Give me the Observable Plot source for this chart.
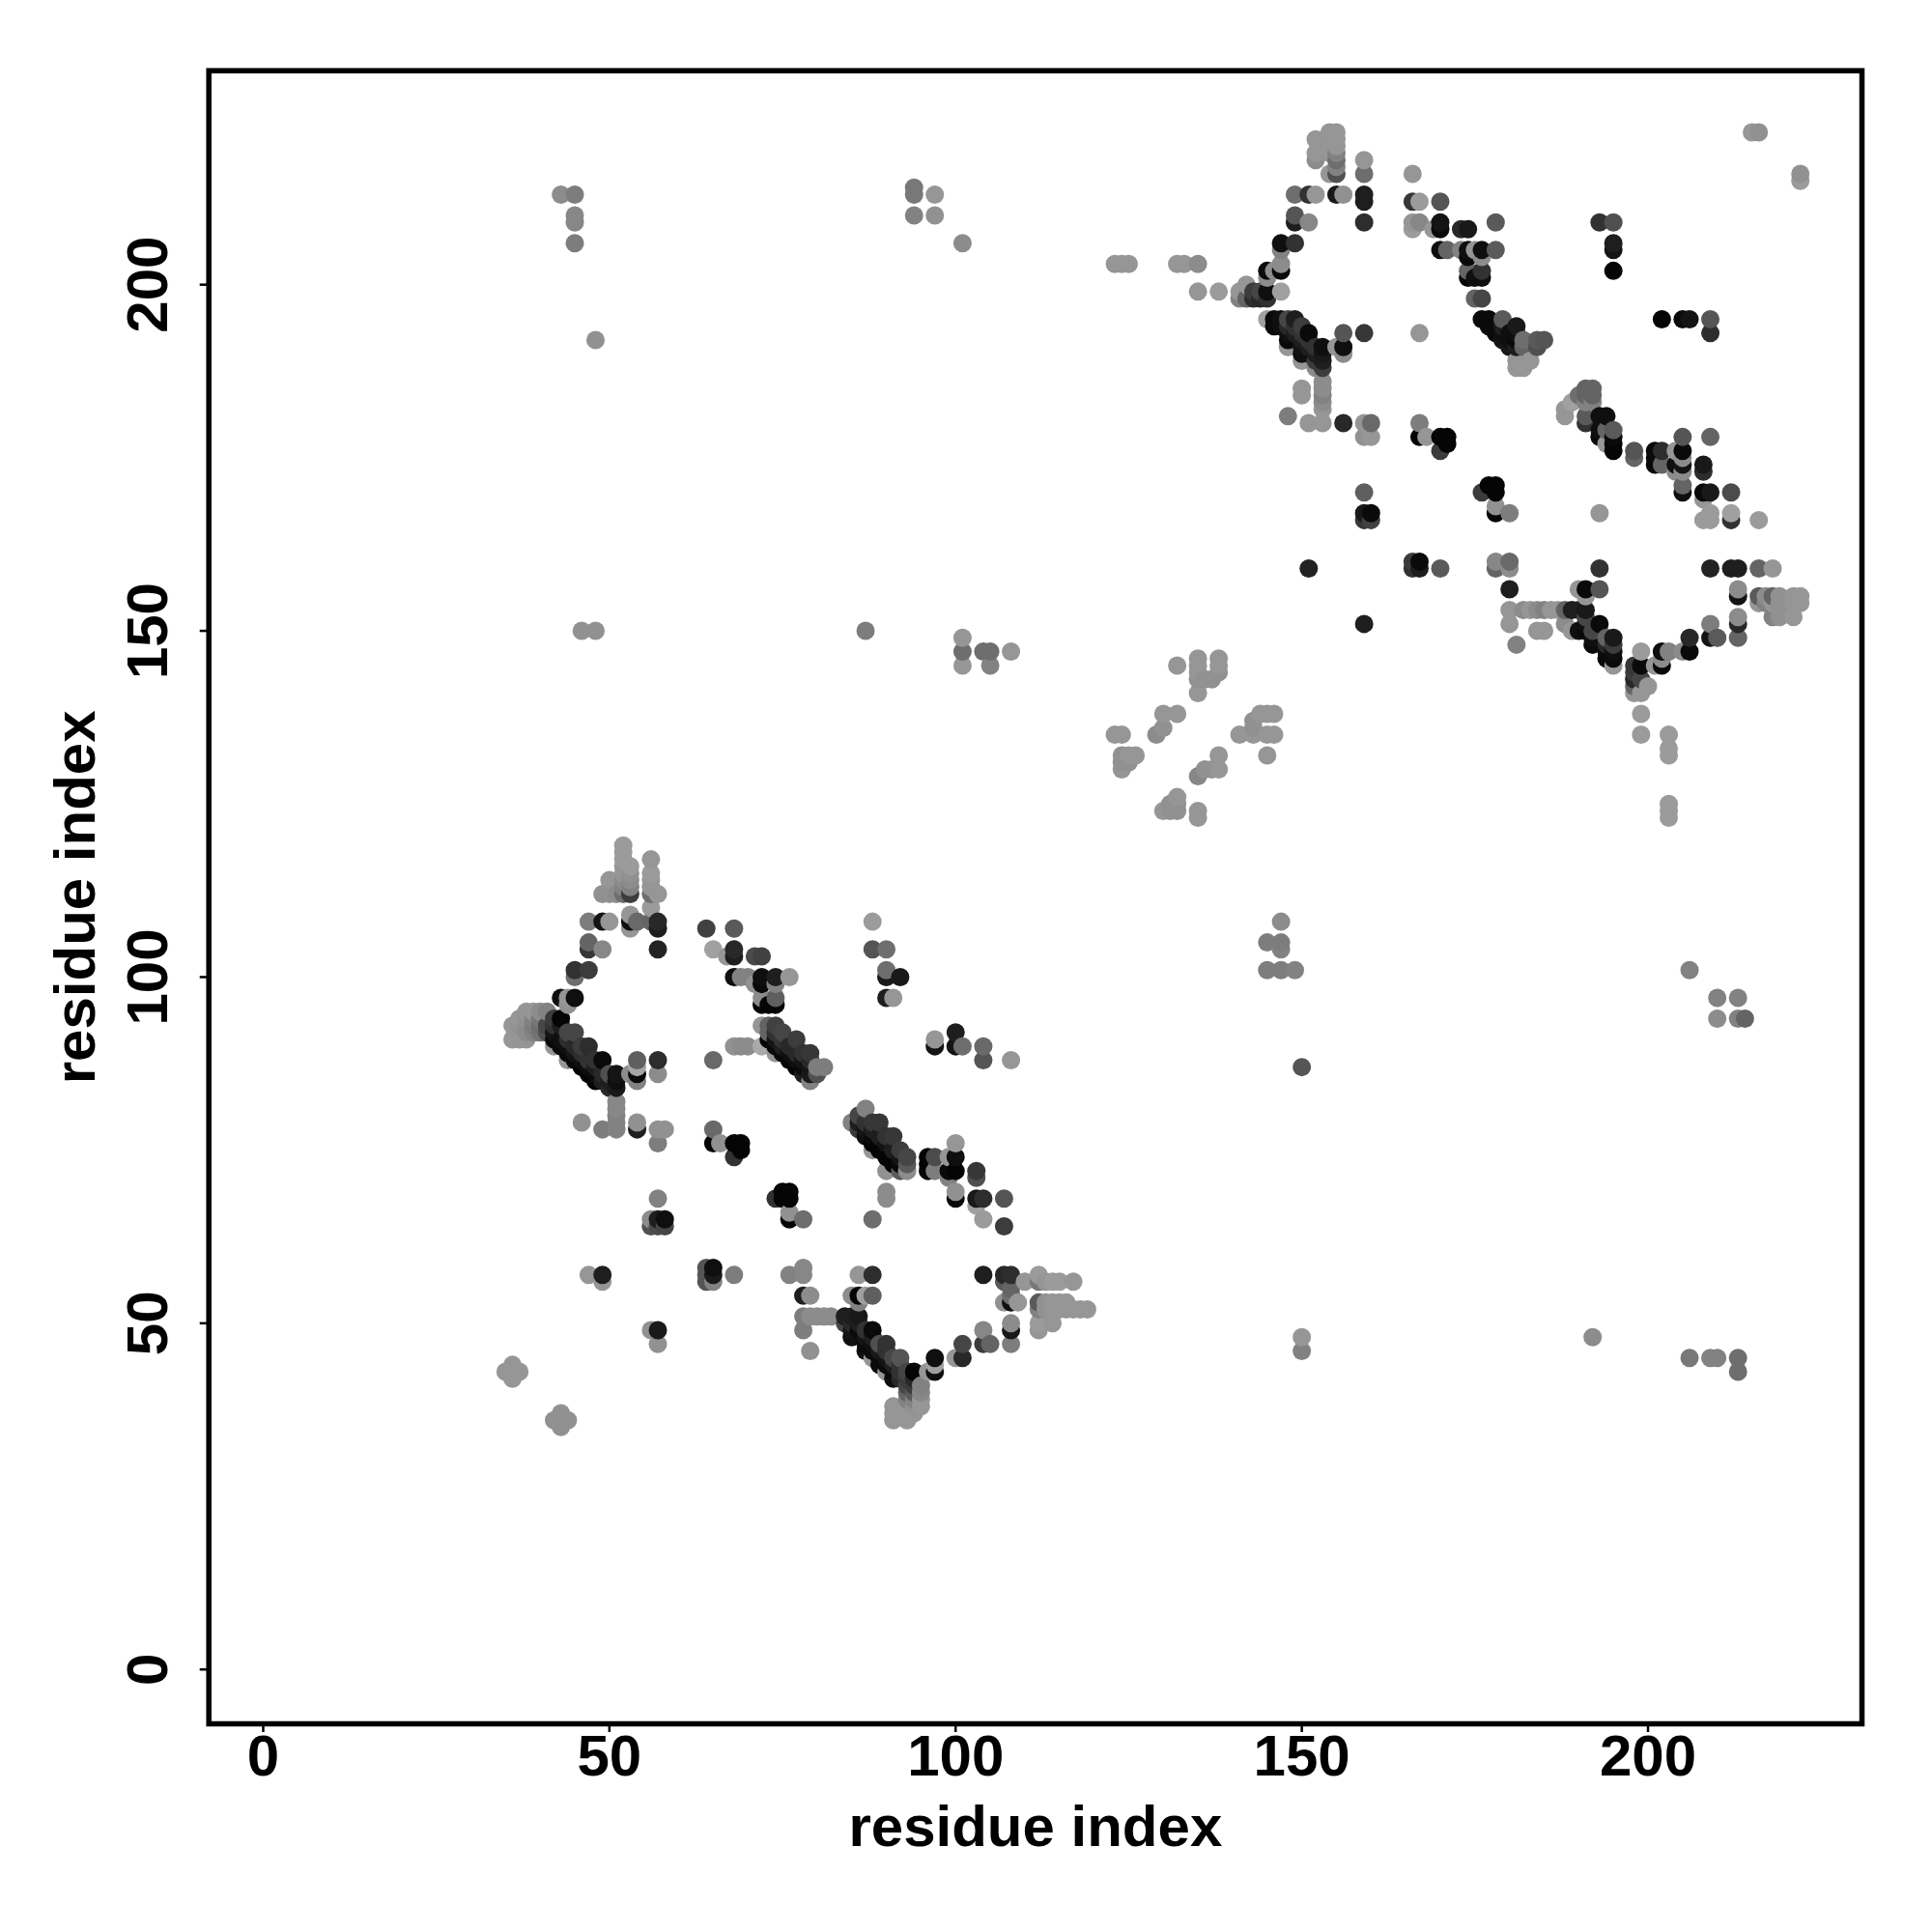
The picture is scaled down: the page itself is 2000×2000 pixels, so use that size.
<!DOCTYPE html>
<html>
<head>
<meta charset="utf-8">
<script src="https://cdn.jsdelivr.net/npm/d3@7"></script>
<script src="https://cdn.jsdelivr.net/npm/@observablehq/plot@0.6"></script>
<style>html,body{margin:0;padding:0;background:#fff}svg{display:block}</style>
</head>
<body>
<div id="chart"></div>
<script>
const tickValues = [0, 50, 100, 150, 200];
const axisLabel = "residue index";

// [residue x, residue y, grey level 0-255]
const blockA = [
[35,43,150],[36,42,150],[36,43,150],[36,44,150],[37,43,150],
[36,91,150],[36,93,150],[37,91,150],[37,92,150],[37,93,145],[37,94,150],[38,91,150],[38,92,140],[38,93,140],[38,94,145],[38,95,150],
[39,92,130],[39,93,125],[39,94,130],[39,95,150],[40,92,115],[40,93,110],[40,94,120],[40,95,140],[41,92,80],[41,93,70],[41,95,130],
[42,36,145],[43,35,145],[43,36,145],[43,37,145],[44,36,145],
[43,213,140],[45,213,125],[45,210,135],[45,209,135],[45,206,125],[48,192,145],[46,150,145],[48,150,145],
[42,90,150],[42,91,10],[42,92,20],[42,93,50],[42,94,60],[43,90,10],[43,91,15],[43,93,30],[43,94,5],[43,97,15],
[44,88,150],[44,89,10],[44,90,15],[44,91,45],[44,92,70],[44,96,145],[44,97,150],
[45,88,10],[45,89,20],[45,90,40],[45,92,70],[45,97,15],[45,100,110],[45,101,50],
[46,79,145],[46,87,5],[46,88,15],[46,89,45],[46,90,60],
[47,57,150],[47,86,5],[47,87,15],[47,88,50],[47,90,45],[47,101,60],[47,104,55],[47,105,100],[47,108,125],
[48,85,5],[48,86,10],[48,87,30],[48,88,50],
[49,56,150],[49,57,30],[49,78,125],[49,85,30],[49,86,40],[49,88,10],[49,104,135],[49,108,20],[49,112,145],
[50,84,40],[50,85,30],[50,86,80],[50,108,150],[50,112,145],[50,114,150],
[51,78,130],[51,79,130],[51,80,130],[51,81,135],[51,82,135],[51,84,25],[51,85,15],[51,86,20],[51,112,140],
[52,112,110],[52,113,130],[52,114,140],[52,115,150],[52,116,150],[52,117,155],[52,118,155],[52,119,155],
[53,86,140],[53,107,150],[53,108,15],[53,109,150],[53,112,60],[53,113,130],[53,114,140],[53,115,145],[53,116,155],
[54,78,30],[54,79,145],[54,85,130],[54,86,10],[54,87,165],[54,88,95],[54,108,105],
[56,64,80],[56,65,140],[56,49,145],[56,108,100],[56,110,155],[56,112,110],[56,113,150],[56,114,150],[56,115,155],[56,117,150],
[57,47,145],[57,49,25],[57,64,75],[57,65,30],[57,68,130],[57,76,125],[57,78,145],[57,86,140],[57,88,45],[57,104,35],[57,107,30],[57,108,40],[57,112,150],
[58,64,70],[58,65,15],[58,78,145],
[64,56,85],[64,57,85],[64,58,85],[64,107,65],
[65,56,130],[65,57,25],[65,58,15],[65,76,5],[65,78,105],[65,88,105],[65,104,160],
[66,76,145],[67,103,150],
[68,57,125],[68,74,50],[68,76,5],[68,90,145],[68,100,15],[68,103,30],[68,104,40],[68,107,90],
[69,75,5],[69,76,5],[69,90,140],[69,100,130],
[70,90,140],[70,100,130],[71,99,145],[71,103,75],[72,90,170],[72,96,5],[72,97,140],[72,99,10],[72,100,15],[72,93,150],[72,103,65],
[73,91,5],[73,92,100],[73,93,100],[73,96,5],
[74,89,150],[74,90,10],[74,91,20],[74,92,50],[74,93,65],[74,96,5],[74,97,95],[74,99,130],[74,100,30],[74,68,50],
[75,68,5],[75,69,5],[75,89,10],[75,90,30],[75,91,50],[75,92,70],
[76,57,130],[76,65,5],[76,66,145],[76,68,5],[76,69,5],[76,88,5],[76,89,15],[76,90,40],[76,100,150],
[77,87,5],[77,88,15],[77,89,40],[77,91,60],
[78,49,125],[78,51,125],[78,54,30],[78,57,135],[78,58,135],[78,65,110],[78,86,30],[78,87,10],[78,88,20],[78,89,50],
[79,46,145],[79,51,140],[79,54,140],[79,85,130],[79,86,25],[79,87,20],[79,88,40],[79,89,55],
[80,51,140],[80,86,80],[80,87,125],[81,51,140],[81,87,125],[82,51,140]
];

const blockB = [
[84,50,70],[84,51,30],[85,48,15],[85,49,20],[85,50,40],[85,51,30],[85,54,140],[85,79,130],
[86,49,10],[86,50,30],[86,51,25],[86,53,130],[86,54,5],[86,57,150],[86,78,60],[86,79,30],[86,80,70],
[87,46,15],[87,47,10],[87,48,20],[87,49,50],[87,54,160],[87,77,15],[87,78,20],[87,79,50],[87,81,130],[87,150,125],
[88,45,150],[88,46,10],[88,47,15],[88,48,30],[88,49,10],[88,54,95],[88,57,45],[88,65,110],[88,75,150],[88,76,5],[88,77,10],[88,78,30],[88,79,55],[88,104,85],[88,108,155],
[89,44,10],[89,45,10],[89,46,25],[89,47,80],[89,75,5],[89,76,5],[89,77,30],[89,79,55],
[90,43,150],[90,44,10],[90,45,20],[90,46,50],[90,47,50],[90,68,140],[90,69,140],[90,72,145],[90,74,5],[90,75,5],[90,76,20],[90,77,50],[90,97,30],[90,100,25],[90,101,110],[90,104,110],
[91,36,150],[91,37,150],[91,38,150],[91,42,15],[91,43,10],[91,44,30],[91,45,70],[91,73,5],[91,74,5],[91,75,30],[91,77,55],[91,97,150],
[92,37,150],[92,42,40],[92,43,50],[92,44,50],[92,45,85],[92,72,90],[92,73,10],[92,74,20],[92,75,60],[92,100,25],
[93,36,150],[93,38,150],[93,39,130],[93,40,100],[93,41,70],[93,42,60],[93,43,70],[93,72,140],[93,73,90],[93,74,70],
[94,37,150],[94,38,145],[94,39,130],[94,40,90],[94,41,60],[94,42,40],[94,43,5],[94,210,130],[94,213,120],[94,214,120],
[95,38,150],[95,39,150],[95,40,135],[95,41,130],
[96,43,150],[96,72,5],[96,73,5],[96,74,5],
[97,43,15],[97,44,160],[97,45,15],[97,72,125],[97,74,75],[97,90,20],[97,91,150],[97,210,145],[97,213,150],
[99,71,130],[99,72,10],[99,74,150],
[100,45,150],[100,68,10],[100,69,145],[100,72,5],[100,74,15],[100,76,150],[100,90,20],[100,92,30],
[101,45,40],[101,47,70],[101,90,110],[101,145,150],[101,147,110],[101,149,150],[101,206,140],
[103,67,160],[103,68,25],[103,71,80],[103,72,55],
[104,47,60],[104,49,135],[104,57,30],[104,65,155],[104,68,45],[104,88,85],[104,90,105],[104,147,110],
[105,47,100],[105,145,130],[105,147,110],
[107,53,145],[107,56,90],[107,57,40],[107,64,60],[107,68,85],
[108,47,125],[108,49,25],[108,50,140],[108,53,15],[108,54,110],[108,55,100],[108,57,45],[108,88,150],[108,147,150],
[109,53,150],[110,56,150],
[112,49,150],[112,50,155],[112,52,130],[112,53,90],[112,56,120],[112,57,155],
[113,52,145],[113,53,145],[113,56,150],[114,50,150],[114,52,150],[114,53,150],[114,56,155],
[115,52,150],[115,53,150],[115,56,155],[116,52,150],[116,53,150],[117,52,150],[117,56,150],[118,52,150],[119,52,150]
];

const blockC = [
[123,135,150],[124,130,150],[124,131,145],[124,132,145],[124,135,150],[125,131,145],[125,132,150],[126,132,150],
[123,203,150],[124,203,150],[125,203,150],
[129,135,140],[130,124,150],[130,136,145],[130,138,150],[131,124,145],[131,125,145],[132,124,145],[132,125,145],[132,126,150],[132,138,150],[132,145,150],
[132,203,150],[133,203,150],[135,203,140],[135,199,150],
[135,123,150],[135,124,150],[135,129,135],[135,141,150],[135,143,145],[135,144,150],[135,145,150],[135,146,150],
[136,130,145],[136,143,145],[137,130,145],[137,143,145],
[138,130,150],[138,132,150],[138,144,145],[138,145,150],[138,146,150],[138,199,155],
[141,135,150],[141,198,130],[141,199,150],[142,198,100],[142,200,150],
[143,135,150],[143,136,145],[143,137,145],[143,198,45],[143,199,60],[144,138,150],[144,198,40],[144,199,70],
[145,101,125],[145,105,125],[145,132,150],[145,135,150],[145,138,150],[145,195,160],[145,198,50],[145,199,15],[145,201,140],[145,202,10],
[146,135,150],[146,138,150],[146,194,10],[146,195,10],[146,202,140],
[147,101,125],[147,104,130],[147,105,125],[147,108,140],[147,194,15],[147,195,15],[147,199,160],[147,202,10],[147,203,140],[147,205,130],[147,206,15],
[148,181,125],[148,192,10],[148,193,15],[148,194,40],[148,195,70],[148,191,150],
[149,101,130],[149,193,30],[149,194,50],[149,195,30],[149,206,50],[149,209,30],[149,210,85],[149,213,110],
[150,46,130],[150,48,150],[150,87,85],[150,184,150],[150,185,150],[150,189,150],[150,190,15],[150,191,20],[150,192,30],[150,193,50],[150,194,60],
[151,159,35],[151,180,150],[151,190,15],[151,191,30],[151,192,50],[151,193,10],[151,209,135],[151,213,50],
[152,188,140],[152,189,60],[152,190,30],[152,191,50],[152,213,150],[152,218,140],[152,219,150],[152,221,150],
[153,180,150],[153,182,150],[153,183,140],[153,184,130],[153,185,140],[153,186,140],[153,188,60],[153,189,30],[153,190,25],[153,191,15],
[154,216,150],[154,219,150],[154,220,150],[154,221,150],[154,222,150],
[155,191,150],[155,213,25],[155,216,80],[155,217,130],[155,218,110],[155,219,130],[155,220,150],[155,221,150],[155,222,150],
[156,180,40],[156,190,140],[156,191,15],[156,193,85],[156,213,145],
[159,151,30],[159,166,55],[159,167,25],[159,170,95],[159,178,145],[159,180,150],[159,193,55],[159,209,45],[159,212,30],[159,213,30],[159,216,110],[159,218,150],
[160,166,65],[160,167,10],[160,178,150],[160,180,105]
];

const blockD = [
[166,159,50],[166,160,60],[166,208,155],[166,209,150],[166,212,55],[166,216,150],
[167,159,30],[167,160,10],[167,178,5],[167,180,125],[167,193,150],[167,209,135],[167,212,155],
[168,178,150],[169,208,150],
[170,159,90],[170,176,60],[170,178,5],[170,205,15],[170,208,10],[170,209,20],[170,212,85],
[171,177,5],[171,178,5],[171,205,100],
[173,205,130],[173,208,40],
[174,201,5],[174,202,100],[174,204,10],[174,205,15],[174,208,25],
[175,198,100],[175,201,15],[175,205,150],
[176,170,60],[176,195,10],[176,198,70],[176,201,15],[176,202,50],[176,204,140],[176,205,15],
[177,171,5],[177,194,10],[177,195,10],
[178,159,100],[178,160,135],[178,167,5],[178,168,145],[178,170,5],[178,171,5],[178,193,10],[178,194,10],[178,205,90],[178,209,90],
[179,192,20],[179,193,15],[179,194,30],[179,195,90],
[180,151,150],[180,153,150],[180,156,30],[180,159,140],[180,160,105],[180,167,125],[180,191,25],[180,192,15],[180,193,15],
[181,148,130],[181,188,150],[181,189,150],[181,191,30],[181,192,10],[181,193,15],[181,194,25],
[182,153,140],[182,188,150],[182,191,100],[182,192,110],[183,153,150],[183,189,150],
[184,150,150],[184,153,140],[184,191,80],[184,192,90],[185,150,150],[185,153,130],[185,192,85],
[186,153,150],[187,153,150],
[188,151,140],[188,153,100],[188,181,150],[188,182,150],[189,150,150],[189,153,30],[189,183,160],
[190,153,30],[190,150,15],[190,156,150],[190,184,110],
[191,150,10],[191,151,15],[191,152,70],[191,153,25],[191,155,150],[191,156,10],[191,180,50],[191,181,90],[191,183,130],[191,184,100],[191,185,100],
[192,48,140],[192,148,10],[192,149,15],[192,150,70],[192,183,130],[192,184,100],[192,185,100],
[193,151,10],[193,156,85],[193,159,50],[193,167,150],[193,178,10],[193,179,15],[193,181,15],[193,209,50],
[194,146,10],[194,147,10],[194,148,40],[194,149,100],[194,177,150],[194,179,100],[194,181,15],
[195,145,150],[195,146,10],[195,147,15],[195,148,60],[195,149,25],[195,176,5],[195,177,5],[195,178,10],[195,179,90],[195,202,5],[195,205,20],[195,206,30],[195,209,80],
[198,141,150],[198,142,100],[198,143,40],[198,144,60],[198,145,55],[198,175,100],[198,176,85],
[199,135,155],[199,138,155],[199,141,150],[199,143,70],[199,145,10],[199,147,155],
[200,142,150],
[201,145,150],[201,174,10],[201,175,10],[201,176,10],
[202,145,10],[202,146,140],[202,147,15],[202,174,100],[202,176,45],[202,195,5],
[203,123,155],[203,124,155],[203,125,155],[203,132,155],[203,133,155],[203,135,155],[203,147,130],
[204,173,140],[204,174,15],[204,176,150],
[205,147,140],[205,170,15],[205,171,100],[205,173,140],[205,174,20],[205,175,140],[205,176,10],[205,178,85],[205,195,10],
[206,45,120],[206,101,130],[206,147,10],[206,149,40],[206,195,20],
[208,166,155],[208,169,150],[208,170,10],[208,173,45],[208,174,25],
[209,45,130],[209,149,20],[209,151,125],[209,159,35],[209,166,155],[209,167,155],[209,170,25],[209,178,100],[209,193,45],[209,195,85],
[210,45,130],[210,94,140],[210,97,130],[210,149,90],
[212,159,30],[212,166,50],[212,167,160],[212,170,75],
[213,43,110],[213,45,110],[213,94,130],[213,97,130],[213,149,100],[213,151,40],[213,152,140],[213,155,20],[213,156,140],[213,159,30],
[214,94,100],
[215,222,150],
[216,154,150],[216,155,90],[216,159,100],[216,166,155],[216,222,145],
[217,154,130],[217,155,140],
[218,152,130],[218,154,150],[218,155,100],[218,159,150],
[219,152,145],[219,153,145],[219,154,145],[219,155,145],
[221,152,150],[221,154,150],[221,155,150],
[222,154,150],[222,155,150],[222,215,155],[222,216,145]
];

const contacts = d3.sort(
  [...blockA, ...blockB, ...blockC, ...blockD].map(([x, y, g]) => ({x, y, g})),
  d => d.x, d => d.y
);

const plot = Plot.plot({
  width: 2000, height: 2000,
  marginLeft: 215.7, marginRight: 73, marginTop: 72.7, marginBottom: 216,
  style: {fontFamily: "'Liberation Sans', Arial, sans-serif", fontWeight: "bold", background: "#fff", color: "#000"},
  x: {domain: [-7.85, 230.9]},
  y: {domain: [-7.85, 230.9]},
  color: {type: "linear", domain: [0, 255], range: ["#000", "#fff"]},
  marks: [
    Plot.axisX({ticks: tickValues, tickFormat: d => d, tickSize: 9, tickPadding: 2, fontSize: 60, strokeWidth: 2.5,
      label: axisLabel, labelAnchor: "center", labelArrow: "none", labelOffset: 126, marginBottom: 216}),
    Plot.axisY({ticks: tickValues, tickFormat: d => d, tickSize: 9, tickPadding: 34, fontSize: 60, strokeWidth: 2.5, tickRotate: -90,
      label: axisLabel, labelAnchor: "center", labelArrow: "none", labelOffset: 161, marginLeft: 215.7}),
    Plot.dot(contacts, {x: "x", y: "y", fill: "g", r: 9.5, stroke: "none"}),
    Plot.frame({stroke: "#000", strokeWidth: 5.5})
  ]
});
document.getElementById("chart").appendChild(plot);
</script>
</body>
</html>
